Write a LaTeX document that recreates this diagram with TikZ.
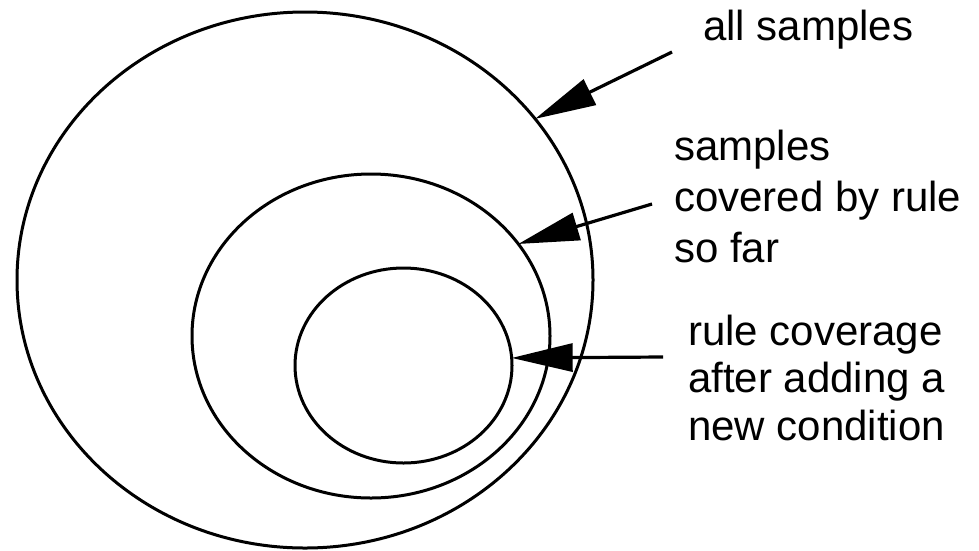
\documentclass[tikz,border=0pt]{standalone}
\usepackage{fontspec}
\setmainfont{Liberation Sans}
\usetikzlibrary{arrows.meta,shapes.geometric}

\begin{document}
\begin{tikzpicture}[x=1pt,y=-1pt,
  ring/.style={ellipse,draw,line width=3pt,inner sep=0pt,outer sep=0pt},
  pointer/.style={line width=3.2pt,-{Triangle[length=61pt,width=28pt]}},
  lbl/.style={anchor=base west,align=left,inner sep=0pt,font=\fontsize{42}{#1}\selectfont},
  lbl/.default=48]
\useasboundingbox (0,0) rectangle (979,550);
% the three sets
\node[ring,minimum width=576pt,minimum height=536pt] (all) at (305,280){};
\node[ring,minimum width=358pt,minimum height=324pt] (sofar) at (371,336){};
\node[ring,minimum width=217pt,minimum height=195pt] (new) at (403.5,365.5){};
% labels (base = last line)
\node[lbl] (allL) at (703,40){all samples};
\node[lbl=51] (sofarL) at (674,262){samples\\covered by rule\\so far};
\node[lbl=47.5] (newL) at (688,440){rule coverage\\after adding a\\new condition};
% pointers
\coordinate (allT) at (672,52);
\coordinate (sofarT) at (652,204);
\coordinate (newT) at (663,357);
\draw[pointer] (allT)--(all.35.6);
\draw[pointer] (sofarT)--(sofar.32);
\draw[pointer] (newT)--(new.4);
\end{tikzpicture}
\end{document}
